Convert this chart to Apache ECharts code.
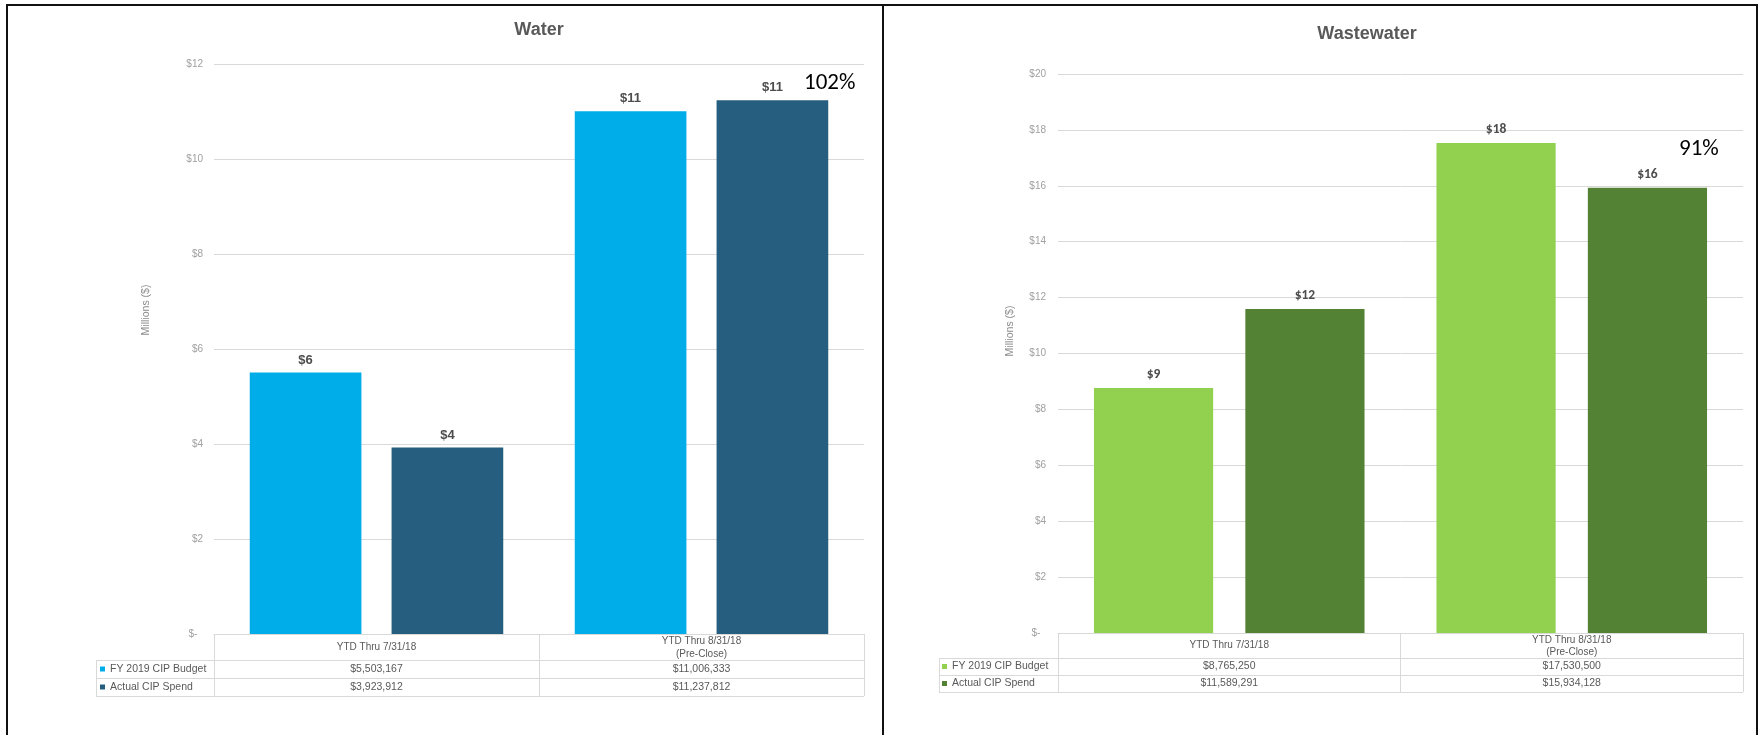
<!DOCTYPE html>
<html>
<head>
<meta charset="utf-8">
<script src="https://cdn.jsdelivr.net/npm/echarts@6/dist/echarts.min.js"></script>
<style>
  html, body { margin: 0; padding: 0; background: #fff; width: 1762px; height: 735px; overflow: hidden; }
  #water { position: absolute; left: 0; top: 0; width: 883px; height: 735px; }
  #wastewater { position: absolute; left: 883px; top: 0; width: 879px; height: 735px; }
  #frame { position: absolute; left: 6px; top: 4px; width: 1752px; height: 745px; border: 2px solid #111; border-bottom: none; box-sizing: border-box; pointer-events: none; }
  #divider { position: absolute; left: 882px; top: 4px; width: 2px; height: 735px; background: #111; pointer-events: none; }
</style>
</head>
<body>
<div id="water"></div>
<div id="wastewater"></div>
<div id="frame"></div>
<div id="divider"></div>
<script>
// ---------------- data ----------------
const categories = ['YTD Thru 7/31/18', 'YTD Thru 8/31/18\n(Pre-Close)'];
const seriesNames = ['FY 2019 CIP Budget', 'Actual CIP Spend'];
const waterBudget = [5503167, 11006333];
const waterActual = [3923912, 11237812];
const wastewaterBudget = [8765250, 17530500];
const wastewaterActual = [11589291, 15934128];
const waterAxis = { min: 0, max: 12, interval: 2 };
const wastewaterAxis = { min: 0, max: 20, interval: 2 };
const chartTitles = ['Water', 'Wastewater'];
const pctNotes = ['102%', '91%'];
const axisName = 'Millions ($)';

// ---------------- helpers ----------------
function fmtMoney(v) {
  return '$' + String(Math.round(v)).replace(/\B(?=(\d{3})+(?!\d))/g, ',');
}
function toMillions(arr) { return arr.map(v => v / 1e6); }

function buildOption(c) {
  const tableRight = c.width - c.gridRight;
  const yHead = c.axisY + c.headerH;
  const y1 = yHead + c.rowH;
  const y2 = y1 + c.rowH;
  const lineStyle = { stroke: '#d9d9d9', lineWidth: 1 };
  const hLine = y => ({ type: 'line', silent: true, shape: { x1: c.tableLeft, y1: y + 0.5, x2: tableRight, y2: y + 0.5 }, style: lineStyle });
  const labelCfg = {
    show: true, position: 'top', distance: c.labelDist,
    formatter: p => '$' + Math.round(p.value),
    fontFamily: c.labelFont, fontSize: c.labelSize, fontWeight: 'bold', color: '#4d4d4d'
  };
  return {
    animation: false,
    textStyle: { fontFamily: '"Liberation Sans", Arial, sans-serif' },
    grid: { left: c.gridLeft, right: c.gridRight, top: c.gridTop, bottom: c.height - c.axisY, containLabel: false, outerBoundsMode: 'none' },
    legend: {
      orient: 'vertical', left: c.legendLeft, top: yHead, padding: 0, itemGap: 0,
      itemWidth: 5, itemHeight: 5, icon: 'rect', selectedMode: false,
      textStyle: { fontSize: 10.5, color: '#595959', lineHeight: c.rowH, fontFamily: '"Liberation Sans", Arial, sans-serif' },
      data: seriesNames
    },
    xAxis: {
      type: 'category', data: categories, boundaryGap: true,
      axisLine: { show: true, lineStyle: { color: '#d9d9d9', width: 1 } },
      axisTick: { show: true, length: c.headerH + 2 * c.rowH, lineStyle: { color: '#d9d9d9', width: 1 } },
      splitLine: { show: false },
      axisLabel: {
        interval: 0, margin: 0, hideOverlap: false,
        formatter: (val, i) => {
          const parts = val.split('\n');
          const head = parts.length === 1 ? '{h1|' + parts[0] + '}' : parts.map(p => '{h2|' + p + '}').join('\n');
          return head + '\n{v|' + fmtMoney(c.budget[i]) + '}\n{v|' + fmtMoney(c.actual[i]) + '}';
        },
        rich: {
          h1: { lineHeight: c.headerH, fontSize: 10, color: '#595959' },
          h2: { lineHeight: c.headerH / 2, fontSize: 10, color: '#595959', padding: [1, 0, 0, 0] },
          v: { lineHeight: c.rowH, fontSize: 10.5, color: '#595959' }
        }
      }
    },
    yAxis: {
      type: 'value', min: c.axis.min, max: c.axis.max, interval: c.axis.interval,
      axisLine: { show: false }, axisTick: { show: false },
      axisLabel: { formatter: v => v === 0 ? '$-  ' : '$' + v, fontSize: 10, color: '#a0a0a0', margin: c.labelMargin },
      splitLine: { show: true, lineStyle: { color: '#d9d9d9', width: 1 } }
    },
    series: [
      { name: seriesNames[0], type: 'bar', data: toMillions(c.budget), itemStyle: { color: c.colors[0] }, barGap: '27%', barCategoryGap: c.catGap, label: labelCfg },
      { name: seriesNames[1], type: 'bar', data: toMillions(c.actual), itemStyle: { color: c.colors[1] }, barGap: '27%', barCategoryGap: c.catGap, label: labelCfg }
    ],
    graphic: [
      hLine(yHead), hLine(y1), hLine(y2),
      { type: 'line', silent: true, shape: { x1: c.tableLeft + 0.5, y1: yHead, x2: c.tableLeft + 0.5, y2: y2 + 1 }, style: lineStyle },
      { type: 'text', silent: true, x: c.titleX, y: c.titleY,
        style: { text: c.title, fontFamily: '"Liberation Sans", Arial, sans-serif', fontSize: 18, fontWeight: 'bold', fill: '#595959', align: 'center', verticalAlign: 'middle' } },
      { type: 'text', silent: true, x: c.nameX, y: c.nameY, rotation: Math.PI / 2,
        style: { text: axisName, fontFamily: '"Liberation Sans", Arial, sans-serif', fontSize: 10.5, fill: '#8c8c8c', align: 'center', verticalAlign: 'middle' } },
      { type: 'text', silent: true, x: c.pctX, y: c.pctY,
        style: { text: c.pct, fontFamily: 'Carlito, Lato, sans-serif', fontSize: 23, fill: '#000', align: 'left', verticalAlign: 'middle' } }
    ]
  };
}

const waterChart = echarts.init(document.getElementById('water'), null, { renderer: 'canvas' });
waterChart.setOption(buildOption({
  width: 883, height: 735, gridLeft: 214, gridRight: 19, gridTop: 64, axisY: 634,
  headerH: 26, rowH: 18, tableLeft: 96, legendLeft: 100, labelMargin: 11, catGap: '22%',
  axis: waterAxis, budget: waterBudget, actual: waterActual,
  colors: ['#00ADE8', '#255E7E'],
  labelFont: '"Liberation Sans", Arial, sans-serif', labelSize: 13, labelDist: 6,
  title: chartTitles[0], titleX: 539, titleY: 30,
  nameX: 146, nameY: 310, pct: pctNotes[0], pctX: 804, pctY: 83
}));

const wasteChart = echarts.init(document.getElementById('wastewater'), null, { renderer: 'canvas' });
wasteChart.setOption(buildOption({
  width: 879, height: 735, gridLeft: 175, gridRight: 19, gridTop: 74, axisY: 633,
  headerH: 25, rowH: 17, tableLeft: 56, legendLeft: 59, labelMargin: 12, catGap: '21%',
  axis: wastewaterAxis, budget: wastewaterBudget, actual: wastewaterActual,
  colors: ['#92D050', '#548235'],
  labelFont: 'Carlito, Lato, sans-serif', labelSize: 13.5, labelDist: 6,
  title: chartTitles[1], titleX: 484, titleY: 34,
  nameX: 127, nameY: 331, pct: pctNotes[1], pctX: 796, pctY: 149
}));
</script>
</body>
</html>
